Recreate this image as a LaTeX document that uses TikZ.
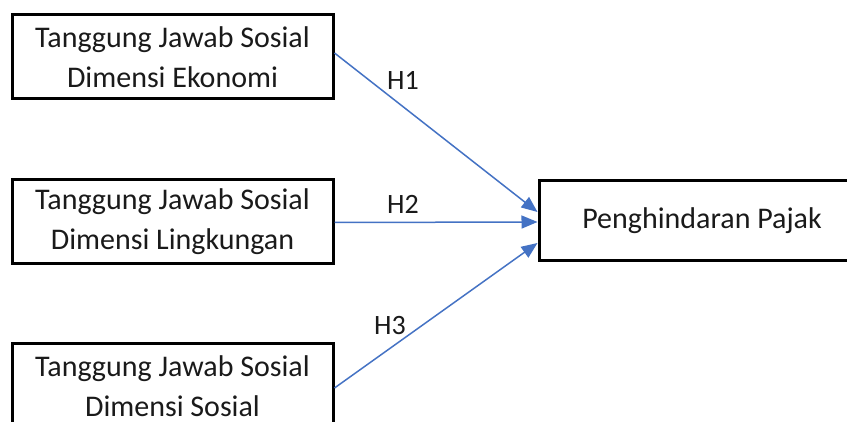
\documentclass[tikz,border=0pt]{standalone}
\usepackage{fontspec}
\setmainfont{Carlito}
\usetikzlibrary{arrows.meta}
\definecolor{arrowblue}{HTML}{4472C4}
\definecolor{txt}{HTML}{1A1A1A}
\tikzset{
  box/.style={draw=black, line width=3pt, rectangle, align=center, text=txt,
    font=\fontsize{30}{40}\selectfont, inner sep=0pt},
  leftbox/.style={box, minimum width=321pt, minimum height=84pt},
  link/.style={draw=arrowblue, line width=1.5pt, -{Triangle[length=16pt,width=13pt]}},
  hlabel/.style={text=txt, font=\fontsize{28}{34}\selectfont, inner sep=0pt}
}
\begin{document}
\begin{tikzpicture}[x=1pt,y=-1pt]
\useasboundingbox (0,0) rectangle (847,422);
\clip (0,0) rectangle (847,422);
\fill[white] (0,0) rectangle (847,422);
\node[leftbox] (b1) at (172.5,57) {Tanggung Jawab Sosial\\Dimensi Ekonomi};
\node[leftbox] (b2) at (172.5,221.5) {Tanggung Jawab Sosial\\Dimensi Lingkungan};
\node[leftbox] (b3) at (172.5,386) {Tanggung Jawab Sosial\\Dimensi Sosial};
\node[box, minimum width=326pt, minimum height=80pt] (pp) at (702,221) {Penghindaran Pajak};
\draw[link] ([yshift=4pt]b1.east) -- ([yshift=9pt]pp.west);
\draw[link] ([yshift=-1pt]b2.east) -- ([yshift=-1pt]pp.west);
\draw[link] ([yshift=-2pt]b3.east) -- ([yshift=-22pt]pp.west);
\node[hlabel] (h1) at (403,80) {H1};
\node[hlabel] (h2) at (403,204) {H2};
\node[hlabel] (h3) at (390,326) {H3};
\end{tikzpicture}
\end{document}
